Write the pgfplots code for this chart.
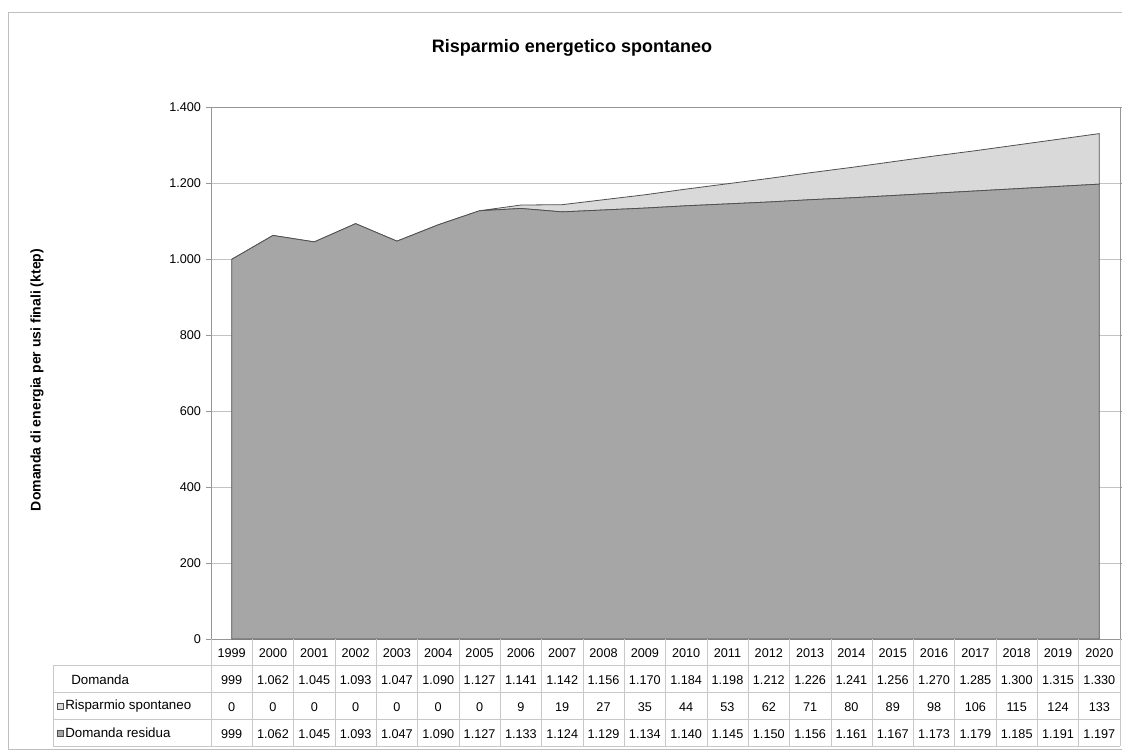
\documentclass[border=0pt]{standalone}
\usepackage{pgfplots}
\pgfplotsset{compat=1.18}
\usepackage{pgfplotstable}
\usepackage{fontspec}
\setmainfont{Liberation Sans}

\definecolor{resid}{RGB}{166,166,166}
\definecolor{risp}{RGB}{217,217,217}
\definecolor{edge}{RGB}{80,80,80}
\definecolor{gridc}{RGB}{195,195,195}
\definecolor{framec}{RGB}{150,150,150}
\definecolor{tabc}{RGB}{200,200,200}
\definecolor{outc}{RGB}{190,190,190}

\pgfkeys{/pgf/number format/.cd, 1000 sep={.}, assume math mode=true}

\pgfplotstableread{
i year dom ris res
0 1999 999 0 999
1 2000 1062 0 1062
2 2001 1045 0 1045
3 2002 1093 0 1093
4 2003 1047 0 1047
5 2004 1090 0 1090
6 2005 1127 0 1127
7 2006 1141 9 1133
8 2007 1142 19 1124
9 2008 1156 27 1129
10 2009 1170 35 1134
11 2010 1184 44 1140
12 2011 1198 53 1145
13 2012 1212 62 1150
14 2013 1226 71 1156
15 2014 1241 80 1161
16 2015 1256 89 1167
17 2016 1270 98 1173
18 2017 1285 106 1179
19 2018 1300 115 1185
20 2019 1315 124 1191
21 2020 1330 133 1197
}\datatable

\newcommand\tv[1]{\pgfplotstablegetelem{\ticknum}{#1}\of\datatable\pgfmathprintnumber{\pgfplotsretval}}

\begin{document}
\begin{tikzpicture}
\path[use as bounding box] (-158.25pt,-84pt) rectangle (683.25pt,479.25pt);
\draw[outc] (-152.25pt,-82.5pt) rectangle (689.25pt,470.25pt);
\begin{axis}[
  at={(0,0)}, anchor=south west, scale only axis,
  width=681.75pt, height=399pt,
  xmin=-0.5, xmax=21.5, ymin=0, ymax=1400,
  xtick={0,...,21},
  xticklabel={\pgfplotstablegetelem{\ticknum}{year}\of\datatable\pgfplotsretval\\\tv{dom}\\\tv{ris}\\\tv{res}},
  xticklabel style={align=center, anchor=north, inner sep=0pt, yshift=-3pt, font=\fontsize{9.5}{20.2}\selectfont},
  x tick style={draw=none},
  ytick={0,200,...,1400},
  yticklabel style={font=\fontsize{9.5}{11}\selectfont},
  ytick style={framec},
  tick align=outside, major tick length=4pt,
  ymajorgrids, grid style={gridc, line width=0.6pt},
  axis line style={framec},
  stack plots=y,
  clip=false,
]
\addplot[fill=resid, draw=edge, line width=0.6pt] table[x=i,y=res]{\datatable} \closedcycle;
\addplot[fill=risp, draw=edge, line width=0.6pt] table[x=i,y=ris]{\datatable} \closedcycle;
\end{axis}
% data table grid
\foreach \k in {0,...,22} \draw[tabc] ({\k*681.75pt/22},0) -- ({\k*681.75pt/22},-80.25pt);
\draw[tabc] (-118.5pt,-19.5pt) -- (-118.5pt,-80.25pt);
\foreach \y in {-19.5,-39.75,-60,-80.25} \draw[tabc] (-118.5pt,\y pt) -- (681.75pt,\y pt);
\node[anchor=west, inner sep=0pt, font=\fontsize{10}{12}\selectfont] at (-105pt,-30.2pt) {Domanda};
\filldraw[fill=risp, draw=edge, line width=0.4pt] (-115.5pt,-52.6pt) rectangle ++(4.6pt,4.6pt);
\node[anchor=west, inner sep=0pt, font=\fontsize{10}{12}\selectfont] at (-109.5pt,-50.3pt) {Risparmio spontaneo};
\filldraw[fill=resid, draw=edge, line width=0.4pt] (-115.5pt,-72.8pt) rectangle ++(4.6pt,4.6pt);
\node[anchor=west, inner sep=0pt, font=\fontsize{10}{12}\selectfont] at (-109.5pt,-70.5pt) {Domanda residua};
% title and y label
\node[font=\bfseries\fontsize{13.5}{16}\selectfont] at (270.75pt,443.25pt) {Risparmio energetico spontaneo};
\node[rotate=90, font=\bfseries\fontsize{10.5}{12}\selectfont] at (-130.5pt,194.25pt) {Domanda di energia per usi finali (ktep)};
\end{tikzpicture}
\end{document}
